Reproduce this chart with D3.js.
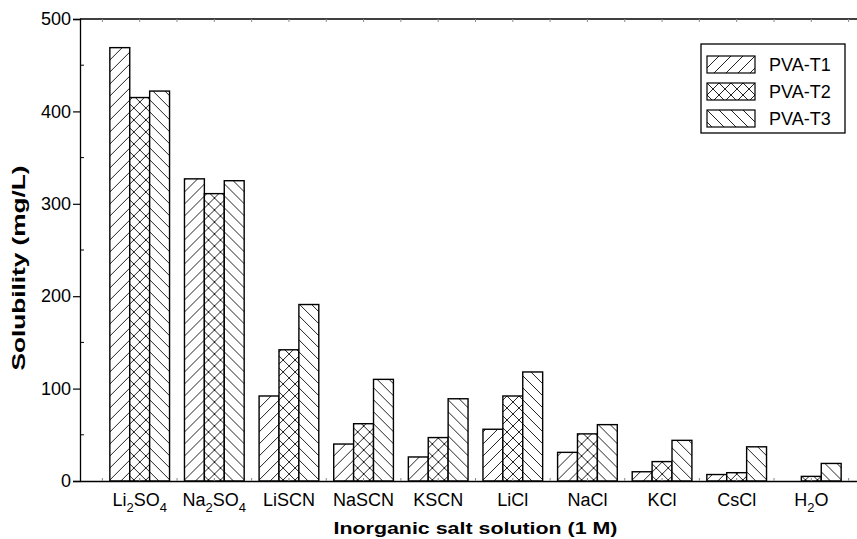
<!DOCTYPE html>
<html>
<head>
<meta charset="utf-8">
<script src="https://cdn.jsdelivr.net/npm/d3@7"></script>
<style>
  body { margin: 0; background: #fff; }
  svg { display: block; font-family: "Liberation Sans", Arial, sans-serif; }
</style>
</head>
<body>
<div id="chart"></div>
<script>
//////////////////////////// data /////////////////////////////////////////

const categories = ["Li2SO4", "Na2SO4", "LiSCN", "NaSCN", "KSCN", "LiCl", "NaCl", "KCl", "CsCl", "H2O"];
const seriesNames = ["PVA-T1", "PVA-T2", "PVA-T3"];
const t1 = [469, 327, 92, 40, 26, 56, 31, 10, 7, 0];
const t2 = [415, 311, 142, 62, 47, 92, 51, 21, 9, 5];
const t3 = [422, 325, 191, 110, 89, 118, 61, 44, 37, 19];
const yTicks = [0, 100, 200, 300, 400, 500];
const yMinorTicks = [50, 150, 250, 350, 450];

const seriesValues = [t1, t2, t3];

//////////////////////////// sizes ///////////////////////////////////////

const width = 857, height = 539;
const margin = { top: 19, left: 80, bottom: 58 };
const axisRight = 871; // the original figure is cropped on the right

const svg = d3.select("#chart").append("svg")
  .attr("width", width)
  .attr("height", height);

//////////////////////////// patterns /////////////////////////////////////

const defs = svg.append("defs");
const pat = (id, paths, size) => {
  const p = defs.append("pattern")
    .attr("id", id)
    .attr("patternUnits", "userSpaceOnUse")
    .attr("width", size).attr("height", size);
  p.append("rect").attr("width", size).attr("height", size).attr("fill", "#fff");
  paths.forEach(d => p.append("path").attr("d", d)
    .attr("stroke", "#222").attr("stroke-width", 1).attr("fill", "none"));
};
const s = 12;
const up = `M0,${s} L${s},0 M${-s/2},${s/2} L${s/2},${-s/2} M${s/2},${s*1.5} L${s*1.5},${s/2}`;
const down = `M0,0 L${s},${s} M${-s/2},${s/2} L${s/2},${s*1.5} M${s/2},${-s/2} L${s*1.5},${s/2}`;
pat("p1", [up], s);
pat("p2", [up, down], s);
pat("p3", [down], s);
const fills = ["url(#p1)", "url(#p2)", "url(#p3)"];

//////////////////////////// scales ///////////////////////////////////////

const x = d3.scaleBand()
  .domain(categories)
  .range([margin.left, axisRight])
  .paddingInner(0.2)
  .paddingOuter(0.4);

const xSub = d3.scaleBand()
  .domain(seriesNames)
  .range([0, x.bandwidth()]);

const y = d3.scaleLinear()
  .domain([0, 500])
  .range([height - margin.bottom, margin.top]);

//////////////////////////// bars /////////////////////////////////////////

const groups = svg.append("g").selectAll("g")
  .data(categories)
  .join("g")
  .attr("transform", d => `translate(${x(d)},0)`);

groups.selectAll("rect")
  .data((c, i) => seriesNames.map((name, k) => ({ name, k, value: seriesValues[k][i] })))
  .join("rect")
  .filter(d => d.value > 0)
  .attr("x", d => xSub(d.name))
  .attr("y", d => y(d.value))
  .attr("width", xSub.bandwidth())
  .attr("height", d => y(0) - y(d.value))
  .attr("fill", d => fills[d.k])
  .attr("stroke", "#000")
  .attr("stroke-width", 1.4);

//////////////////////////// axes /////////////////////////////////////////

// top frame line
svg.append("line")
  .attr("x1", margin.left).attr("x2", axisRight)
  .attr("y1", y(500)).attr("y2", y(500))
  .attr("stroke", "#000").attr("stroke-width", 1.3);

const yAxis = svg.append("g")
  .attr("transform", `translate(${margin.left},0)`)
  .call(d3.axisLeft(y).tickValues(yTicks).tickSize(7).tickPadding(2));
yAxis.select(".domain").attr("stroke-width", 1.3);
yAxis.selectAll(".tick line").attr("stroke-width", 1.2);
yAxis.selectAll("text")
  .style("font-size", "18px")
  .style("font-family", "'Liberation Sans', Arial, sans-serif")
  .attr("fill", "#000");

svg.append("g").selectAll("line")
  .data(yMinorTicks)
  .join("line")
  .attr("x1", margin.left).attr("x2", margin.left + 4)
  .attr("y1", d => y(d)).attr("y2", d => y(d))
  .attr("stroke", "#000");

const xAxis = svg.append("g")
  .attr("transform", `translate(0,${y(0)})`)
  .call(d3.axisBottom(x).tickSize(0).tickFormat(""));
xAxis.select(".domain").attr("stroke-width", 1.3);

// small grey ticks at group centres and boundaries (bottom and top)
const step = x.step();
const minor = [];
categories.forEach(c => {
  minor.push(x(c) + x.bandwidth() / 2);
  minor.push(x(c) + x.bandwidth() / 2 - step / 2);
});
minor.push(x(categories[categories.length - 1]) + x.bandwidth() / 2 + step / 2);
[y(0), y(500)].forEach((yy, j) => {
  svg.append("g").selectAll("line")
    .data(minor)
    .join("line")
    .attr("x1", d => d).attr("x2", d => d)
    .attr("y1", yy).attr("y2", j === 0 ? yy - 3 : yy + 3)
    .attr("stroke", "#888");
});

// category labels with subscripts
const labels = svg.append("g").selectAll("text")
  .data(categories)
  .join("text")
  .attr("x", d => x(d) + x.bandwidth() / 2)
  .attr("y", y(0) + 25)
  .attr("text-anchor", "middle")
  .style("font-size", "18px")
  .attr("fill", "#000");

labels.each(function (d) {
  const t = d3.select(this);
  let low = false;
  d.split(/(\d+)/).filter(p => p.length).forEach(part => {
    if (/^\d+$/.test(part)) {
      t.append("tspan").attr("dy", 6).style("font-size", "13px").text(part);
      low = true;
    } else {
      t.append("tspan").attr("dy", low ? -6 : 0).text(part);
      low = false;
    }
  });
});

//////////////////////////// titles ///////////////////////////////////////

svg.append("text")
  .attr("x", (margin.left + axisRight) / 2)
  .attr("y", 534)
  .attr("text-anchor", "middle")
  .attr("textLength", 284)
  .attr("lengthAdjust", "spacingAndGlyphs")
  .style("font-size", "17px")
  .style("font-weight", "bold")
  .text("Inorganic salt solution (1 M)");

svg.append("text")
  .attr("transform", `translate(25,${(y(0) + y(500)) / 2 + 18}) rotate(-90)`)
  .attr("text-anchor", "middle")
  .attr("textLength", 205)
  .attr("lengthAdjust", "spacingAndGlyphs")
  .style("font-size", "19px")
  .style("font-weight", "bold")
  .text("Solubility (mg/L)");

//////////////////////////// legend ///////////////////////////////////////

const legend = svg.append("g").attr("transform", "translate(701,44)");
legend.append("rect")
  .attr("width", 144).attr("height", 89)
  .attr("fill", "#fff").attr("stroke", "#000").attr("stroke-width", 1.3);

const items = legend.selectAll(".legend")
  .data(seriesNames)
  .join("g")
  .attr("class", "legend")
  .attr("transform", (d, i) => `translate(6,${12 + i * 27})`);

items.append("rect")
  .attr("width", 48).attr("height", 17)
  .attr("fill", (d, i) => fills[i])
  .attr("stroke", "#000").attr("stroke-width", 1.2);

items.append("text")
  .attr("x", 62).attr("y", 15)
  .style("font-size", "18px")
  .text(d => d);
</script>
</body>
</html>
